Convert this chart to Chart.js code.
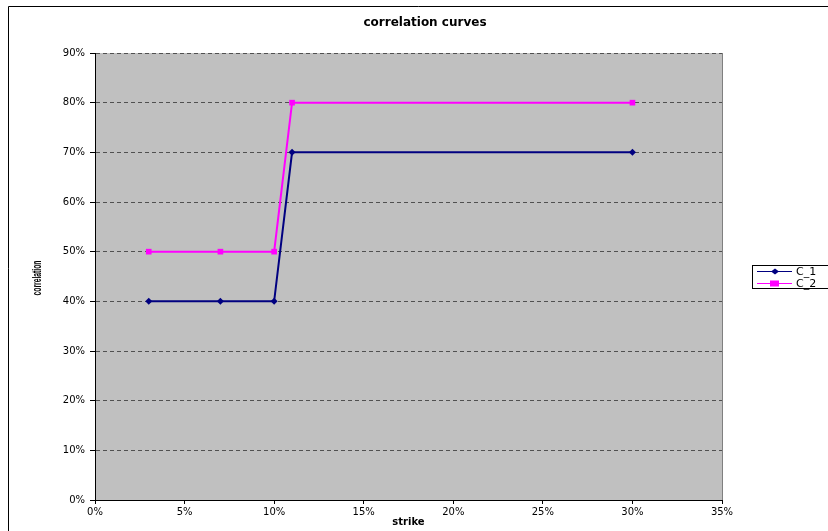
<!DOCTYPE html>
<html>
<head>
<meta charset="utf-8">
<script src="https://cdn.jsdelivr.net/npm/chart.js@4"></script>
<style>
  html, body { margin: 0; padding: 0; background: #fff; }
  #wrap { width: 828px; height: 531px; }
</style>
</head>
<body>
<div id="wrap"><canvas id="combinedChart" width="828" height="531"></canvas></div>
<script>
// chart data
const chartTitle = 'correlation curves';
const xTitle = 'strike';
const yTitle = 'correlation';
const seriesNames = ['C_1', 'C_2'];
const strikes = [0.03, 0.07, 0.10, 0.11, 0.30];
const c1Values = [0.40, 0.40, 0.40, 0.70, 0.70];
const c2Values = [0.50, 0.50, 0.50, 0.80, 0.80];
const xTicks = [0, 0.05, 0.10, 0.15, 0.20, 0.25, 0.30, 0.35];
const yTicks = [0, 0.1, 0.2, 0.3, 0.4, 0.5, 0.6, 0.7, 0.8, 0.9];

const pct = v => Math.round(v * 100) + '%';
const toPoints = vals => strikes.map((s, i) => ({ x: s, y: vals[i] }));
const fontFam = '"DejaVu Sans", "Liberation Sans", Arial, sans-serif';

// background, frame, titles and legend in the old spreadsheet style
const excelLook = {
    id: 'excelLook',
    beforeDraw(chart) {
        const ctx = chart.ctx;
        const a = chart.chartArea;
        ctx.save();
        ctx.fillStyle = '#ffffff';
        ctx.fillRect(0, 0, chart.width, chart.height);
        ctx.strokeStyle = '#000000';
        ctx.lineWidth = 1;
        ctx.beginPath();
        ctx.moveTo(8.5, chart.height);
        ctx.lineTo(8.5, 6.5);
        ctx.lineTo(chart.width, 6.5);
        ctx.stroke();
        ctx.fillStyle = '#c0c0c0';
        ctx.fillRect(a.left, a.top, a.right - a.left, a.bottom - a.top);
        ctx.restore();
    },
    afterDraw(chart) {
        const ctx = chart.ctx;
        const a = chart.chartArea;
        ctx.save();
        // right edge of plot
        ctx.strokeStyle = '#808080';
        ctx.beginPath();
        ctx.moveTo(a.right + 0.5, a.top);
        ctx.lineTo(a.right + 0.5, a.bottom);
        ctx.stroke();
        // title
        ctx.fillStyle = '#000';
        ctx.font = 'bold 12px ' + fontFam;
        ctx.textAlign = 'center';
        ctx.textBaseline = 'middle';
        ctx.fillText(chartTitle, 425, 23, 160);
        // y axis title, squeezed like the original
        ctx.save();
        ctx.translate(37, 278);
        ctx.rotate(-Math.PI / 2);
        ctx.font = 'bold 13px "Liberation Sans Narrow", "Liberation Sans", Arial, sans-serif';
        ctx.fillText(yTitle, 0, 0, 35);
        ctx.restore();
        // legend
        const lx = 752, ly = 265;
        ctx.fillStyle = '#fff';
        ctx.fillRect(lx, ly, 100, 23);
        ctx.strokeStyle = '#000';
        ctx.strokeRect(lx + 0.5, ly + 0.5, 100, 23);
        ctx.font = '11px ' + fontFam;
        ctx.textAlign = 'left';
        chart.data.datasets.forEach((ds, i) => {
            const y = ly + 6 + i * 12;
            ctx.strokeStyle = ds.borderColor;
            ctx.lineWidth = 1;
            ctx.beginPath();
            ctx.moveTo(lx + 5, y + 0.5);
            ctx.lineTo(lx + 40, y + 0.5);
            ctx.stroke();
            ctx.fillStyle = ds.backgroundColor;
            if (ds.pointStyle === 'rect') {
                ctx.fillRect(lx + 18, y - 2.5, 9, 6);
            } else {
                ctx.beginPath();
                ctx.moveTo(lx + 23, y - 2.5);
                ctx.lineTo(lx + 27, y + 0.5);
                ctx.lineTo(lx + 23, y + 3.5);
                ctx.lineTo(lx + 19, y + 0.5);
                ctx.closePath();
                ctx.fill();
            }
            ctx.fillStyle = '#000';
            ctx.fillText(ds.label, lx + 44, y + 1);
        });
        ctx.restore();
    }
};

const tickFont = { family: fontFam, size: 10 };

new Chart(document.getElementById('combinedChart').getContext('2d'), {
    type: 'scatter',
    data: {
        datasets: [
            {
                label: seriesNames[0],
                data: toPoints(c1Values),
                showLine: true,
                borderColor: '#000080',
                backgroundColor: '#000080',
                borderWidth: 2,
                pointStyle: 'rectRot',
                pointRadius: 3.5,
                pointBorderWidth: 0
            },
            {
                label: seriesNames[1],
                data: toPoints(c2Values),
                showLine: true,
                borderColor: '#ff00ff',
                backgroundColor: '#ff00ff',
                borderWidth: 2,
                pointStyle: 'rect',
                pointRadius: 4,
                pointBorderWidth: 0
            }
        ]
    },
    options: {
        responsive: false,
        animation: false,
        layout: { padding: { left: 25, right: 106, top: 53, bottom: 2 } },
        plugins: {
            legend: { display: false },
            tooltip: { enabled: false }
        },
        scales: {
            x: {
                type: 'linear',
                min: 0,
                max: 0.35,
                afterBuildTicks: s => { s.ticks = xTicks.map(v => ({ value: v })); },
                afterFit: s => { s.height = 29; },
                border: { color: '#000', width: 1 },
                grid: { drawOnChartArea: false, tickLength: 4, tickColor: '#000' },
                ticks: { color: '#000', font: tickFont, padding: 2, maxRotation: 0, callback: v => pct(v) },
                title: {
                    display: true,
                    text: xTitle,
                    color: '#000',
                    font: { family: fontFam, size: 10, weight: 'bold' },
                    padding: { top: 0, bottom: 1 }
                }
            },
            y: {
                min: 0,
                max: 0.9,
                afterBuildTicks: s => { s.ticks = yTicks.map(v => ({ value: v })); },
                afterFit: s => { s.width = 70; },
                border: { color: '#000', width: 1, dash: [4, 3] },
                grid: {
                    color: '#505050',
                    tickLength: 5,
                    tickColor: '#000',
                    tickBorderDash: []
                },
                ticks: { color: '#000', font: tickFont, padding: 5, callback: v => pct(v) },
                title: { display: false }
            }
        }
    },
    plugins: [excelLook]
});
</script>
</body>
</html>
